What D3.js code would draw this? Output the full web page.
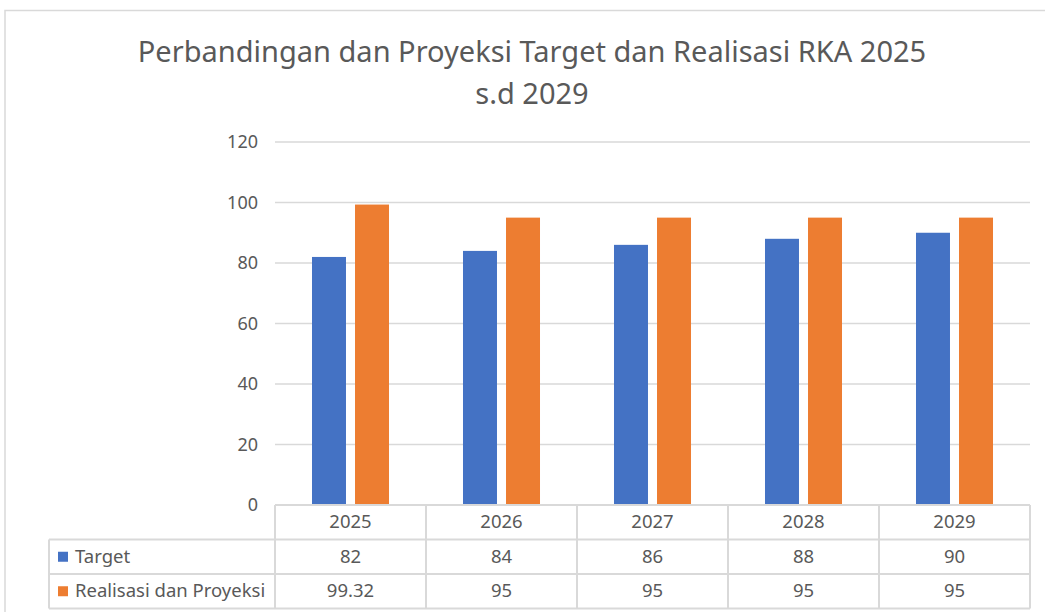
<!DOCTYPE html>
<html>
<head>
<meta charset="utf-8">
<script src="https://cdn.jsdelivr.net/npm/d3@7"></script>
<style>
  body { margin: 0; background: #fff; }
  text { font-family: "Noto Sans", sans-serif; fill: #595959; }
</style>
</head>
<body>
<div id="chart"></div>
<script>
// Data
var years = ["2025", "2026", "2027", "2028", "2029"];
var seriesNames = ["Target", "Realisasi dan Proyeksi"];
var targetValues = [82, 84, 86, 88, 90];
var realisasiValues = [99.32, 95, 95, 95, 95];
var tableLabels = ["82", "84", "86", "88", "90"];
var realisasiLabels = ["99.32", "95", "95", "95", "95"];
var yTicks = [0, 20, 40, 60, 80, 100, 120];
var colors = ["#4472C4", "#ED7D31"];

var width = 1045, height = 612;
var plotLeft = 275, plotRight = 1030, plotTop = 142, plotBottom = 505;
var rowH = 34.5, labelLeft = 49;

var svg = d3.select("#chart")
  .append("svg")
    .attr("width", width)
    .attr("height", height);

// chart border
svg.append("rect")
  .attr("x", 5).attr("y", 10.5)
  .attr("width", width + 10).attr("height", height)
  .attr("fill", "none")
  .attr("stroke", "#d9d9d9")
  .attr("stroke-width", 1.5);

// Title
var title = svg.append("text")
  .attr("text-anchor", "middle")
  .attr("font-size", "29px")
  .attr("x", 532);
title.append("tspan").attr("x", 532).attr("y", 62)
  .text("Perbandingan dan Proyeksi Target dan Realisasi RKA 2025");
title.append("tspan").attr("x", 532).attr("y", 104)
  .text("s.d 2029");

// Scales
var x0 = d3.scaleBand()
  .domain(years)
  .range([plotLeft, plotRight])
  .paddingInner(0.49)
  .paddingOuter(0.245);

var x1 = d3.scaleBand()
  .domain(seriesNames)
  .range([0, x0.bandwidth()])
  .paddingInner(0.21);

var y = d3.scaleLinear()
  .domain([0, 120])
  .range([plotBottom, plotTop]);

// Gridlines
svg.append("g")
  .selectAll("line")
  .data(yTicks.filter(function(d) { return d > 0; }))
  .enter().append("line")
    .attr("x1", plotLeft).attr("x2", plotRight)
    .attr("y1", function(d) { return y(d); })
    .attr("y2", function(d) { return y(d); })
    .attr("stroke", "#d9d9d9")
    .attr("stroke-width", 1.5);

// Y axis
var yAxis = svg.append("g")
  .attr("transform", "translate(" + (plotLeft - 10) + ",0)")
  .call(d3.axisLeft(y).tickValues(yTicks).tickSize(0).tickPadding(7));
yAxis.select(".domain").remove();
yAxis.selectAll("text")
  .attr("font-size", "18px")
  .attr("font-family", "Noto Sans, sans-serif")
  .attr("fill", "#595959");

// Bars
var rows = years.map(function(yr, i) {
  return { year: yr, values: [targetValues[i], realisasiValues[i]] };
});

var groups = svg.append("g")
  .selectAll("g")
  .data(rows)
  .enter().append("g")
    .attr("transform", function(d) { return "translate(" + x0(d.year) + ",0)"; });

groups.selectAll("rect")
  .data(function(d) { return d.values.map(function(v, j) { return { key: seriesNames[j], value: v, idx: j }; }); })
  .enter().append("rect")
    .attr("x", function(d) { return x1(d.key); })
    .attr("y", function(d) { return y(d.value); })
    .attr("width", x1.bandwidth())
    .attr("height", function(d) { return plotBottom - y(d.value); })
    .attr("fill", function(d) { return colors[d.idx]; });

// Data table
var table = svg.append("g");
var step = x0.step();
var lineColor = "#d9d9d9";

// horizontal lines
table.append("line").attr("x1", plotLeft).attr("x2", plotRight)
  .attr("y1", plotBottom).attr("y2", plotBottom);
[1, 2, 3].forEach(function(r) {
  table.append("line").attr("x1", labelLeft).attr("x2", plotRight)
    .attr("y1", plotBottom + r * rowH).attr("y2", plotBottom + r * rowH);
});
// vertical lines
table.append("line").attr("x1", labelLeft).attr("x2", labelLeft)
  .attr("y1", plotBottom + rowH).attr("y2", plotBottom + 3 * rowH);
d3.range(years.length + 1).forEach(function(i) {
  var xx = plotLeft + i * step;
  table.append("line").attr("x1", xx).attr("x2", xx)
    .attr("y1", plotBottom).attr("y2", plotBottom + 3 * rowH);
});
table.selectAll("line")
  .attr("stroke", lineColor)
  .attr("stroke-width", 2);

// header years
table.selectAll(".yr")
  .data(years)
  .enter().append("text")
    .attr("class", "yr")
    .attr("text-anchor", "middle")
    .attr("font-size", "18.5px")
    .attr("x", function(d) { return x0(d) + x0.bandwidth() / 2; })
    .attr("y", plotBottom + rowH / 2 + 6)
    .text(function(d) { return d; });

// value rows
[tableLabels, realisasiLabels].forEach(function(vals, r) {
  table.selectAll(".v" + r)
    .data(vals)
    .enter().append("text")
      .attr("class", "v" + r)
      .attr("text-anchor", "middle")
      .attr("font-size", "18.5px")
      .attr("x", function(d, i) { return x0(years[i]) + x0.bandwidth() / 2; })
      .attr("y", plotBottom + rowH * (r + 1) + rowH / 2 + 6)
      .text(function(d) { return d; });

  // legend key
  table.append("rect")
    .attr("x", 58)
    .attr("y", plotBottom + rowH * (r + 1) + rowH / 2 - 5)
    .attr("width", 10).attr("height", 10)
    .attr("fill", colors[r]);
  table.append("text")
    .attr("x", 75)
    .attr("font-size", "18.5px")
    .attr("y", plotBottom + rowH * (r + 1) + rowH / 2 + 6)
    .text(seriesNames[r]);
});
</script>
</body>
</html>
